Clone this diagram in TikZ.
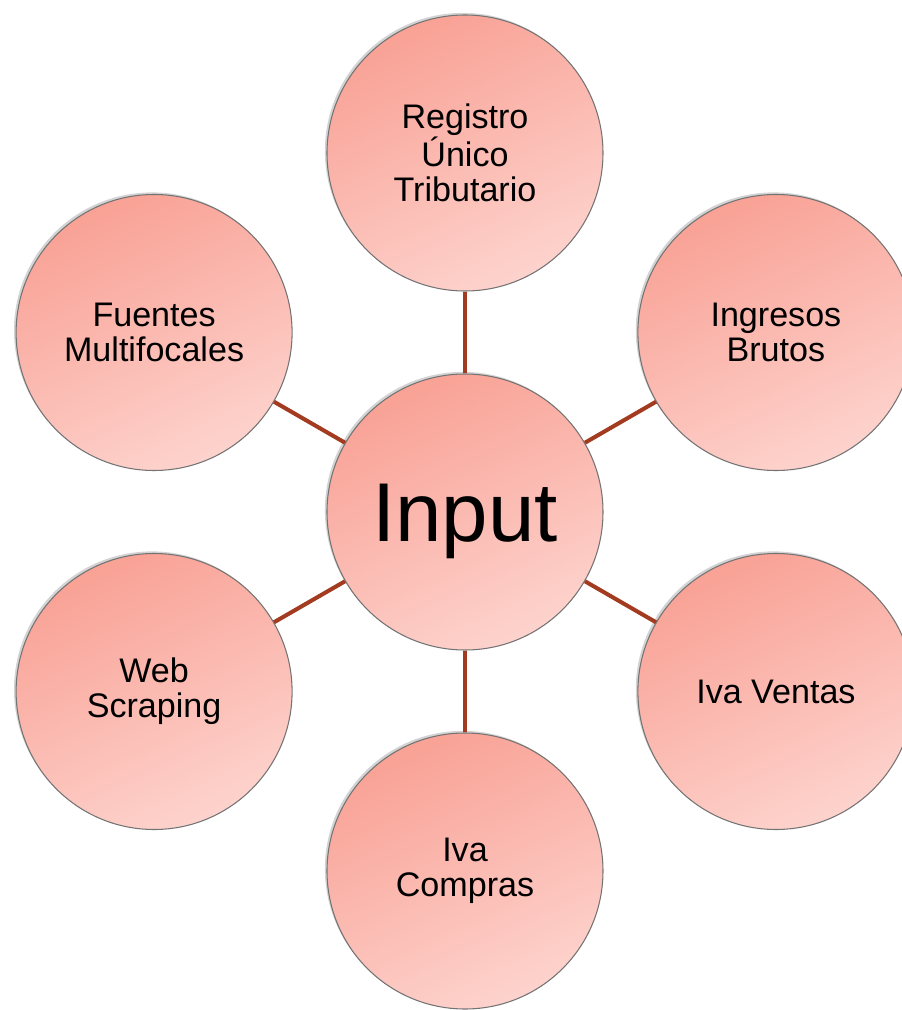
\documentclass[tikz,border=0pt]{standalone}
\usepackage{fontspec}
\setmainfont{Liberation Sans}
\usetikzlibrary{shadows}
\definecolor{salmontop}{HTML}{F9A195}
\definecolor{salmonbot}{HTML}{FDD3CD}
\definecolor{spoke}{HTML}{A23B1F}
\begin{document}
\begin{tikzpicture}[thick,
    main node/.style={circle,draw=gray!90!black,line width=0.6pt,
      minimum size=5.52cm,inner sep=0pt,align=center,
      top color=salmontop,bottom color=salmonbot,shading angle=25,
      drop shadow={shadow xshift=-1.2pt,shadow yshift=1.2pt,opacity=0.35},
      font=\fontsize{19.4}{19.9}\selectfont},
    spoke line/.style={draw=spoke,line width=2.3pt}]

  \clip (-9.3,-9.96) rectangle (8.74,10.24);
  \useasboundingbox (-9.3,-9.96) rectangle (8.74,10.24);

  \node[main node,font=\fontsize{47.5}{50}\selectfont] (0) at (0,0) {\raisebox{-0.58cm}[0pt][0pt]{Input}};
  \node[main node] (1) at (90:7.18) {Registro\\Único\\Tributario};
  \node[main node] (2) at (30:7.18) {Ingresos\\Brutos};
  \node[main node] (3) at (-30:7.18) {Iva Ventas};
  \node[main node] (4) at (-90:7.18) {Iva\\Compras};
  \node[main node] (5) at (210:7.18) {Web\\Scraping};
  \node[main node] (6) at (150:7.18) {Fuentes\\Multifocales};

\path[spoke line]
    (0) edge (1)
    (0) edge (2)
    (0) edge (3)
    (0) edge (4)
    (0) edge (5)
    (0) edge (6)
  ;

\end{tikzpicture}
\end{document}
